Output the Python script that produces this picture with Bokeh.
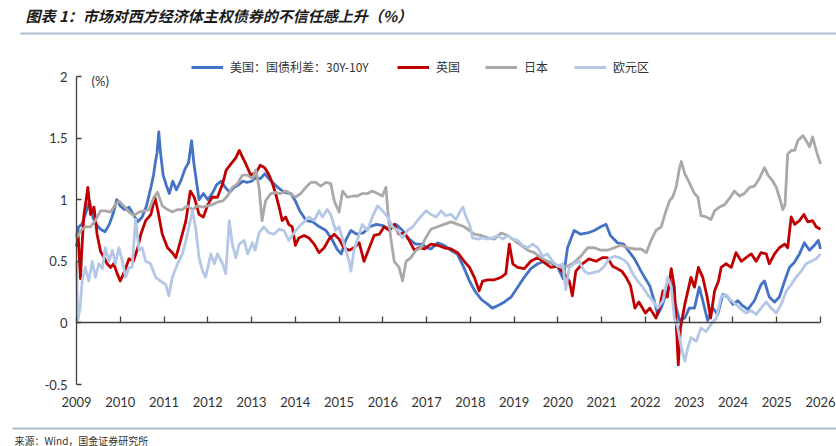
from bokeh.plotting import figure
from bokeh.models import (LinearAxis, FixedTicker, NumeralTickFormatter, CustomJSTickFormatter,
                          Range1d, Label, BoxAnnotation, Legend, LegendItem)
from bokeh.embed import file_html
from bokeh.resources import INLINE

# ---------------- data (decimal years, %) ----------------
us_t = [2009.0, 2009.05, 2009.12, 2009.2, 2009.3, 2009.38, 2009.45, 2009.55, 2009.65, 2009.75, 2009.85, 2009.92,
        2010.0, 2010.1, 2010.2, 2010.3, 2010.4, 2010.5, 2010.6, 2010.7, 2010.76, 2010.8, 2010.84, 2010.88, 2010.92, 2010.98,
        2011.05, 2011.12, 2011.2, 2011.28, 2011.38, 2011.48, 2011.56, 2011.63, 2011.68, 2011.74, 2011.8, 2011.9,
        2012.0, 2012.1, 2012.2, 2012.3, 2012.4, 2012.5, 2012.6, 2012.7, 2012.8, 2012.9,
        2013.0, 2013.1, 2013.2, 2013.3, 2013.45, 2013.6, 2013.75, 2013.9,
        2014.0, 2014.1, 2014.25, 2014.4, 2014.55, 2014.7, 2014.85, 2014.95,
        2015.05, 2015.15, 2015.27, 2015.4, 2015.55, 2015.7, 2015.85,
        2016.0, 2016.15, 2016.3, 2016.45, 2016.6, 2016.75, 2016.9,
        2017.0, 2017.1, 2017.25, 2017.4, 2017.55, 2017.7, 2017.85, 2017.98,
        2018.1, 2018.25, 2018.4, 2018.5, 2018.62, 2018.78, 2018.93,
        2019.08, 2019.23, 2019.38, 2019.54, 2019.69, 2019.84,
        2020.0, 2020.12, 2020.22, 2020.37, 2020.52, 2020.68, 2020.83, 2020.98,
        2021.1, 2021.2, 2021.36, 2021.5, 2021.6, 2021.75, 2021.9, 2021.98,
        2022.1, 2022.2, 2022.28, 2022.36, 2022.47, 2022.59, 2022.66, 2022.78, 2022.9,
        2023.0, 2023.12, 2023.23, 2023.31, 2023.42, 2023.54, 2023.65, 2023.77, 2023.88,
        2024.0, 2024.11, 2024.22, 2024.34, 2024.49, 2024.64, 2024.72, 2024.83, 2024.95,
        2025.06, 2025.18, 2025.29, 2025.4, 2025.52, 2025.63, 2025.75, 2025.86, 2025.95, 2026.0]
us_v = [0.70, 0.78, 0.80, 0.88, 0.99, 0.85, 0.80, 0.76, 0.74, 0.80, 0.90, 1.00,
        0.95, 0.92, 0.94, 0.88, 0.82, 0.86, 0.95, 1.10, 1.20, 1.30, 1.38, 1.55, 1.38, 1.20,
        1.12, 1.05, 1.15, 1.08, 1.15, 1.25, 1.30, 1.48, 1.30, 1.15, 1.00, 1.05,
        1.00, 1.05, 1.12, 1.15, 1.10, 1.06, 1.10, 1.12, 1.15, 1.14,
        1.15, 1.18, 1.17, 1.21, 1.15, 1.10, 1.06, 1.05,
        0.99, 0.91, 0.83, 0.82, 0.78, 0.75, 0.67, 0.60,
        0.56, 0.67, 0.75, 0.72, 0.73, 0.78, 0.80,
        0.79, 0.76, 0.80, 0.75, 0.68, 0.64, 0.64,
        0.61, 0.60, 0.65, 0.63, 0.59, 0.56, 0.45, 0.34,
        0.26, 0.19, 0.15, 0.12, 0.14, 0.17, 0.21,
        0.29, 0.37, 0.44, 0.48, 0.50, 0.49,
        0.45, 0.36, 0.61, 0.75, 0.72, 0.73, 0.75, 0.78,
        0.80, 0.71, 0.65, 0.64, 0.59, 0.52, 0.42, 0.37,
        0.30, 0.18, 0.07, 0.12, 0.23, 0.34, 0.18, 0.02, 0.04,
        0.12, 0.12, 0.29, 0.18, 0.02, 0.12, 0.07, 0.23, 0.21,
        0.15, 0.18, 0.14, 0.11, 0.18, 0.31, 0.34, 0.21, 0.17,
        0.21, 0.34, 0.45, 0.49, 0.56, 0.65, 0.59, 0.63, 0.67, 0.60]

uk_t = [2009.0, 2009.04, 2009.09, 2009.13, 2009.17, 2009.22, 2009.26, 2009.32, 2009.4, 2009.47, 2009.55, 2009.63,
        2009.7, 2009.78, 2009.85, 2009.93, 2010.0, 2010.1, 2010.2, 2010.3, 2010.4, 2010.47, 2010.58, 2010.7,
        2010.79, 2010.86, 2010.96, 2011.08, 2011.19, 2011.27, 2011.38, 2011.5, 2011.6, 2011.69, 2011.8, 2011.9,
        2012.0, 2012.1, 2012.22, 2012.34, 2012.42, 2012.53, 2012.64, 2012.72, 2012.8, 2012.87, 2012.98,
        2013.1, 2013.2, 2013.3, 2013.4, 2013.47, 2013.55, 2013.63, 2013.7, 2013.78, 2013.85, 2013.93,
        2014.0, 2014.08, 2014.2, 2014.31, 2014.43, 2014.54, 2014.66, 2014.77, 2014.89,
        2015.0, 2015.11, 2015.23, 2015.34, 2015.46, 2015.57, 2015.69, 2015.8, 2015.92,
        2016.03, 2016.15, 2016.26, 2016.37, 2016.49, 2016.6, 2016.72, 2016.83, 2016.95,
        2017.1, 2017.25, 2017.4, 2017.56, 2017.71, 2017.86, 2017.98,
        2018.09, 2018.2, 2018.28, 2018.4, 2018.55, 2018.7, 2018.81, 2018.89, 2018.97,
        2019.08, 2019.23, 2019.38, 2019.54, 2019.69, 2019.84, 2019.99,
        2020.14, 2020.26, 2020.33, 2020.41, 2020.56, 2020.71, 2020.87,
        2021.02, 2021.13, 2021.25, 2021.36, 2021.46, 2021.56, 2021.66, 2021.76, 2021.85,
        2022.0, 2022.1, 2022.24, 2022.32, 2022.4, 2022.5, 2022.59, 2022.66, 2022.72, 2022.75, 2022.8, 2022.9, 2022.97,
        2023.04, 2023.12, 2023.21, 2023.31, 2023.41, 2023.49, 2023.58, 2023.67, 2023.73, 2023.84, 2023.96,
        2024.07, 2024.19, 2024.3, 2024.42, 2024.53, 2024.64, 2024.76, 2024.83, 2024.95,
        2025.06, 2025.18, 2025.25, 2025.33, 2025.41, 2025.52, 2025.62, 2025.71, 2025.82, 2025.9, 2026.0]
uk_v = [0.62, 0.70, 0.36, 0.65, 0.88, 1.00, 1.10, 0.88, 0.94, 0.72, 0.58, 0.53,
        0.48, 0.45, 0.48, 0.40, 0.34, 0.42, 0.52, 0.50, 0.61, 0.72, 0.83, 0.88,
        1.02, 0.91, 0.72, 0.61, 0.57, 0.53, 0.67, 0.83, 1.07, 1.02, 0.88, 0.86,
        0.96, 1.02, 1.02, 1.13, 1.24, 1.29, 1.34, 1.40, 1.34, 1.29, 1.20,
        1.22, 1.28, 1.26, 1.20, 1.14, 1.05, 0.94, 0.83, 0.86, 0.80, 0.78,
        0.63, 0.69, 0.71, 0.69, 0.64, 0.57, 0.61, 0.68, 0.72,
        0.68, 0.61, 0.59, 0.61, 0.65, 0.50, 0.61, 0.71, 0.72,
        0.78, 0.75, 0.80, 0.72, 0.73, 0.67, 0.59, 0.61, 0.60,
        0.64, 0.63, 0.61, 0.60, 0.57, 0.50, 0.45,
        0.37, 0.26, 0.34, 0.35, 0.35, 0.37, 0.40, 0.64, 0.48,
        0.45, 0.44, 0.50, 0.53, 0.49, 0.45, 0.46,
        0.40, 0.34, 0.22, 0.42, 0.48, 0.52, 0.50,
        0.53, 0.53, 0.46, 0.44, 0.42, 0.37, 0.30, 0.12, 0.17,
        0.08, 0.12, 0.04, 0.12, 0.26, 0.21, 0.44, 0.29, -0.12, -0.34, -0.04, 0.15, 0.26,
        0.37, 0.29, 0.45, 0.37, 0.21, 0.04, 0.26, 0.34, 0.45, 0.48, 0.45,
        0.57, 0.50, 0.53, 0.56, 0.50, 0.57, 0.56, 0.48, 0.56,
        0.61, 0.64, 0.61, 0.86, 0.80, 0.83, 0.88, 0.82, 0.83, 0.78, 0.76]

jp_t = [2009.0, 2009.1, 2009.2, 2009.32, 2009.43, 2009.55, 2009.66, 2009.78, 2009.89, 2009.97,
        2010.08, 2010.2, 2010.31, 2010.43, 2010.54, 2010.66, 2010.77, 2010.85, 2010.96,
        2011.08, 2011.19, 2011.31, 2011.42, 2011.53, 2011.65, 2011.76, 2011.88, 2011.99,
        2012.1, 2012.22, 2012.34, 2012.45, 2012.56, 2012.68, 2012.79, 2012.91,
        2013.02, 2013.1, 2013.17, 2013.24, 2013.32, 2013.44, 2013.55, 2013.66, 2013.78, 2013.89,
        2014.0, 2014.12, 2014.24, 2014.35, 2014.47, 2014.58, 2014.7, 2014.81, 2014.89,
        2015.0, 2015.08, 2015.19, 2015.31, 2015.42, 2015.53, 2015.65, 2015.76, 2015.88, 2015.99,
        2016.07, 2016.12, 2016.18, 2016.26, 2016.37, 2016.45, 2016.53, 2016.64, 2016.76, 2016.87, 2016.98,
        2017.1, 2017.25, 2017.4, 2017.56, 2017.71, 2017.86, 2017.98,
        2018.09, 2018.24, 2018.4, 2018.55, 2018.7, 2018.85,
        2019.0, 2019.16, 2019.31, 2019.46, 2019.61, 2019.76, 2019.92,
        2020.07, 2020.22, 2020.37, 2020.52, 2020.68, 2020.83, 2020.98,
        2021.13, 2021.29, 2021.44, 2021.6, 2021.75, 2021.9,
        2022.02, 2022.13, 2022.24, 2022.36, 2022.47, 2022.55, 2022.62, 2022.7, 2022.78, 2022.82, 2022.9,
        2023.0, 2023.12, 2023.2, 2023.27, 2023.39, 2023.5, 2023.58, 2023.69, 2023.81, 2023.92,
        2024.03, 2024.15, 2024.26, 2024.38, 2024.49, 2024.6, 2024.72, 2024.8, 2024.91, 2024.99,
        2025.06, 2025.14, 2025.19, 2025.25, 2025.33, 2025.41, 2025.48, 2025.6, 2025.67, 2025.75, 2025.82, 2025.9, 2026.0]
jp_v = [0.69, 0.75, 0.78, 0.78, 0.83, 0.91, 0.91, 0.90, 0.96, 0.99,
        0.95, 0.90, 0.87, 0.90, 0.91, 0.92, 1.02, 1.06, 0.95,
        0.92, 0.90, 0.92, 0.92, 0.95, 0.92, 0.95, 0.94, 0.95,
        0.96, 0.98, 0.99, 1.03, 1.10, 1.13, 1.20, 1.20,
        1.17, 1.24, 1.10, 0.83, 0.99, 1.05, 1.06, 1.05, 1.07, 1.05,
        1.02, 1.05, 1.10, 1.14, 1.14, 1.11, 1.14, 1.13, 0.99,
        0.90, 1.07, 1.02, 1.03, 1.03, 1.05, 1.05, 1.07, 1.05, 1.03,
        1.10, 0.88, 0.69, 0.50, 0.45, 0.34, 0.50, 0.53, 0.59, 0.61, 0.69,
        0.76, 0.78, 0.80, 0.82, 0.80, 0.78, 0.75,
        0.72, 0.71, 0.69, 0.68, 0.73, 0.71,
        0.67, 0.63, 0.59, 0.57, 0.53, 0.50, 0.48,
        0.45, 0.46, 0.49, 0.54, 0.61, 0.61, 0.59,
        0.59, 0.61, 0.63, 0.61, 0.60, 0.60,
        0.57, 0.67, 0.75, 0.78, 0.91, 0.99, 1.02, 1.10, 1.26, 1.31, 1.21,
        1.14, 1.05, 1.02, 0.87, 0.86, 0.84, 0.91, 0.94, 0.96, 1.01,
        1.07, 1.03, 1.05, 1.10, 1.11, 1.17, 1.26, 1.20, 1.15, 1.10,
        1.02, 0.92, 0.96, 1.37, 1.40, 1.40, 1.48, 1.52, 1.48, 1.43, 1.51, 1.40, 1.29]

ez_t = [2009.0, 2009.03, 2009.08, 2009.13, 2009.2, 2009.28, 2009.36, 2009.43, 2009.51, 2009.59, 2009.66, 2009.74,
        2009.82, 2009.89, 2009.97, 2010.05, 2010.12, 2010.2, 2010.27, 2010.35, 2010.43, 2010.5, 2010.58, 2010.69,
        2010.81, 2010.92, 2011.04, 2011.11, 2011.19, 2011.31, 2011.42, 2011.5, 2011.57, 2011.65, 2011.73, 2011.8,
        2011.88, 2011.95, 2012.07, 2012.15, 2012.22, 2012.34, 2012.41, 2012.49, 2012.56, 2012.64, 2012.72, 2012.83, 2012.91,
        2013.02, 2013.08, 2013.17, 2013.28, 2013.4, 2013.51, 2013.63, 2013.74, 2013.85, 2013.97,
        2014.08, 2014.2, 2014.31, 2014.43, 2014.54, 2014.62, 2014.73, 2014.81, 2014.92,
        2015.0, 2015.11, 2015.23, 2015.27, 2015.34, 2015.46, 2015.53, 2015.65, 2015.76, 2015.88, 2015.99,
        2016.11, 2016.22, 2016.34, 2016.45, 2016.56, 2016.68, 2016.79, 2016.91, 2016.99,
        2017.1, 2017.22, 2017.33, 2017.44, 2017.56, 2017.67, 2017.79, 2017.83, 2017.9, 2017.98,
        2018.05, 2018.17, 2018.28, 2018.4, 2018.51, 2018.62, 2018.74, 2018.85, 2018.97,
        2019.08, 2019.19, 2019.31, 2019.42, 2019.54, 2019.65, 2019.76, 2019.88, 2019.99,
        2020.11, 2020.18, 2020.26, 2020.37, 2020.49, 2020.6, 2020.71, 2020.83, 2020.94,
        2021.06, 2021.17, 2021.29, 2021.4, 2021.51, 2021.6, 2021.71, 2021.82, 2021.94,
        2022.05, 2022.17, 2022.28, 2022.4, 2022.51, 2022.59, 2022.66, 2022.74, 2022.82, 2022.9, 2022.97,
        2023.04, 2023.16, 2023.27, 2023.39, 2023.5, 2023.62, 2023.73, 2023.84, 2023.96,
        2024.07, 2024.19, 2024.3, 2024.42, 2024.53, 2024.64, 2024.76, 2024.87, 2024.99,
        2025.1, 2025.22, 2025.33, 2025.44, 2025.56, 2025.67, 2025.79, 2025.9, 2026.0]
ez_v = [0.50, 0.02, 0.12, 0.34, 0.45, 0.34, 0.50, 0.37, 0.48, 0.44, 0.61, 0.50,
        0.59, 0.48, 0.61, 0.50, 0.37, 0.45, 0.45, 0.84, 0.59, 0.61, 0.50, 0.48,
        0.37, 0.34, 0.31, 0.22, 0.37, 0.48, 0.56, 0.67, 0.78, 0.91, 0.75, 0.53,
        0.42, 0.37, 0.56, 0.48, 0.56, 0.48, 0.40, 0.83, 0.64, 0.53, 0.64, 0.67, 0.56,
        0.65, 0.59, 0.73, 0.78, 0.73, 0.72, 0.76, 0.75, 0.67, 0.73,
        0.78, 0.82, 0.86, 0.83, 0.91, 0.86, 0.92, 0.88, 0.75,
        0.78, 0.64, 0.50, 0.42, 0.59, 0.72, 0.80, 0.75, 0.86, 0.95, 0.91,
        0.86, 0.78, 0.75, 0.69, 0.75, 0.78, 0.83, 0.88, 0.91,
        0.88, 0.86, 0.91, 0.87, 0.88, 0.84, 0.92, 0.94, 0.86, 0.80,
        0.69, 0.68, 0.69, 0.68, 0.69, 0.71, 0.68, 0.71, 0.68,
        0.67, 0.63, 0.61, 0.64, 0.61, 0.54, 0.56, 0.50, 0.46,
        0.48, 0.27, 0.45, 0.48, 0.50, 0.42, 0.40, 0.41, 0.42,
        0.46, 0.52, 0.54, 0.53, 0.51, 0.48, 0.40, 0.34, 0.29,
        0.23, 0.18, 0.12, 0.18, 0.37, 0.29, 0.04, -0.04, -0.20, -0.31, -0.20,
        -0.12, -0.15, -0.04, -0.07, -0.01, 0.04, 0.21, 0.23, 0.18,
        0.15, 0.11, 0.08, 0.10, 0.07, 0.12, 0.17, 0.12, 0.08,
        0.15, 0.26, 0.31, 0.37, 0.42, 0.48, 0.50, 0.52, 0.56]

series_names = ["美国：国债利差：30Y-10Y", "英国", "日本", "欧元区"]
series_colors = ["#4472C4", "#C00000", "#ABA8A7", "#B4C7E7"]
year_ticks = list(range(2009, 2027))
y_ticks = [-0.5, 0, 0.5, 1, 1.5, 2]
title_text = "图表 1：市场对西方经济体主权债券的不信任感上升（%）"
unit_text = "(%)"
source_text = "来源：Wind，国金证券研究所"

# ---------------- figure ----------------
W, H = 836, 446
CJK = "Noto Sans CJK SC"
NUM = "Lato"

p = figure(width=W, height=H,
           x_range=Range1d(2007.2634, 2026.3656), y_range=Range1d(-1.0032, 2.6169),
           x_axis_type=None, y_axis_type=None, toolbar_location=None,
           output_backend="svg", min_border=0, outline_line_color=None,
           background_fill_color="white", border_fill_color="white")

renderers = []
for t, v, c in zip([us_t, uk_t, jp_t, ez_t], [us_v, uk_v, jp_v, ez_v], series_colors):
    r = p.line(t, v, line_color=c, line_width=2.8, line_join="round")
    renderers.append(r)

# y axis at x=2009
yax = LinearAxis(fixed_location=2009, bounds=(-0.5, 2),
                 ticker=FixedTicker(ticks=y_ticks),
                 formatter=NumeralTickFormatter(format="0.[0]"),
                 major_tick_in=5, major_tick_out=0, minor_tick_line_color=None,
                 major_label_standoff=9, axis_line_color="#404040", axis_line_width=1.3,
                 major_tick_line_color="#404040", major_tick_line_width=1.3,
                 major_label_text_font=NUM, major_label_text_font_size="13px",
                 major_label_text_color="#333333")
p.add_layout(yax, "left")

# x axis line at y=0 with inward ticks
xax0 = LinearAxis(fixed_location=0, bounds=(2009, 2026),
                  ticker=FixedTicker(ticks=year_ticks),
                  formatter=CustomJSTickFormatter(code="return ''"),
                  major_tick_in=6, major_tick_out=0, minor_tick_line_color=None,
                  axis_line_color="#404040", axis_line_width=1.3,
                  major_tick_line_color="#404040", major_tick_line_width=1.3,
                  major_label_text_font_size="1px")
p.add_layout(xax0, "below")

# year labels at the bottom (y=-0.5)
xlab = LinearAxis(fixed_location=-0.5,
                  ticker=FixedTicker(ticks=year_ticks),
                  formatter=NumeralTickFormatter(format="0"),
                  major_tick_in=0, major_tick_out=0, minor_tick_line_color=None,
                  axis_line_color=None, major_tick_line_color=None,
                  major_label_standoff=12,
                  major_label_text_font=NUM, major_label_text_font_size="13px",
                  major_label_text_color="#333333")
p.add_layout(xlab, "below")

# legends, one per series
leg_x = [191, 397, 485, 574]
for name, r, lx in zip(series_names, renderers, leg_x):
    lg = Legend(items=[LegendItem(label=name, renderers=[r])], location=(lx, 371),
                orientation="horizontal", padding=0, margin=0, spacing=0,
                border_line_color=None, background_fill_alpha=0,
                glyph_width=32, glyph_height=14, label_height=14, label_standoff=7,
                label_text_font=CJK, label_text_font_size="12px", label_text_color="#333333")
    p.add_layout(lg, "center")

# title, separators, unit, source
p.add_layout(Label(x=25, y=442, x_units="screen", y_units="screen", text=title_text,
                   text_font=CJK, text_font_style="bold italic", text_font_size="15px",
                   text_color="#1a1a1a", text_baseline="top"))
p.add_layout(BoxAnnotation(left=20, right=W, top=414, bottom=412,
                           left_units="screen", right_units="screen",
                           top_units="screen", bottom_units="screen",
                           fill_color="#A7BED3", fill_alpha=1, line_color=None))
p.add_layout(Label(x=91, y=366, x_units="screen", y_units="screen", text=unit_text,
                   text_font=NUM, text_font_size="13px", text_color="#333333",
                   text_baseline="middle"))
p.add_layout(BoxAnnotation(left=12, right=W, top=19, bottom=17,
                           left_units="screen", right_units="screen",
                           top_units="screen", bottom_units="screen",
                           fill_color="#A7BED3", fill_alpha=1, line_color=None))
p.add_layout(Label(x=14, y=14, x_units="screen", y_units="screen", text=source_text,
                   text_font=CJK, text_font_size="10px", text_color="#333333",
                   text_baseline="top"))

open("out.html", "w").write(file_html(p, INLINE))
